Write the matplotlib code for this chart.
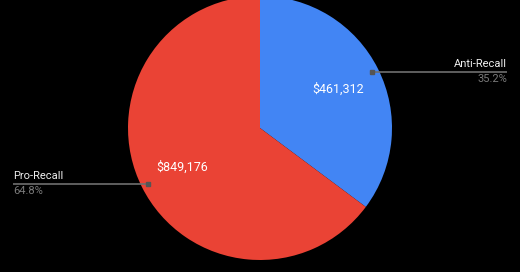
import numpy as np
import matplotlib.pyplot as plt

# campaign money raised, by side
labels = ['Anti-Recall', 'Pro-Recall']
amounts = [461312, 849176]
colors = ['#4285F4', '#EA4335']

plt.rcParams['font.family'] = ['Roboto', 'DejaVu Sans']

fig = plt.figure(figsize=(5.2, 2.72), dpi=100, facecolor='black')
ax = fig.add_axes([0, 0, 1, 1])
ax.set_facecolor('black')

cx, cy, r = 260, 144, 132
wedges, _ = ax.pie(amounts, colors=colors, startangle=90, counterclock=False,
                   center=(cx, cy), radius=r,
                   wedgeprops=dict(linewidth=0))
ax.set_xlim(0, 520)
ax.set_ylim(0, 272)
ax.set_aspect('equal')
ax.axis('off')

total = sum(amounts)
start = 90.0
for lab, amt in zip(labels, amounts):
    sweep = 360.0 * amt / total
    mid = np.radians(start - sweep / 2)
    start -= sweep

    # value inside the slice
    ax.text(cx + 0.66 * r * np.cos(mid), cy + 0.66 * r * np.sin(mid),
            f'${amt:,}', color='white', fontsize=9, ha='center', va='center')

    # leader line out to the edge of the chart
    dx, dy = cx + 0.95 * r * np.cos(mid), cy + 0.95 * r * np.sin(mid)
    if np.cos(mid) >= 0:
        x_end, ha = 507, 'right'
    else:
        x_end, ha = 13, 'left'
    ax.plot([dx, x_end], [dy, dy], color='#6f6f6f', lw=1.2, solid_capstyle='butt')
    ax.plot(dx, dy, 's', color='#555555', ms=2.5)
    ax.text(x_end, dy + 3, lab, color='#eeeeee', fontsize=8, ha=ha, va='bottom')
    ax.text(x_end, dy - 2, f'{100 * amt / total:.1f}%', color='#7a7a7a',
            fontsize=8, ha=ha, va='top')

fig.savefig('out.png', dpi=100, facecolor='black')
